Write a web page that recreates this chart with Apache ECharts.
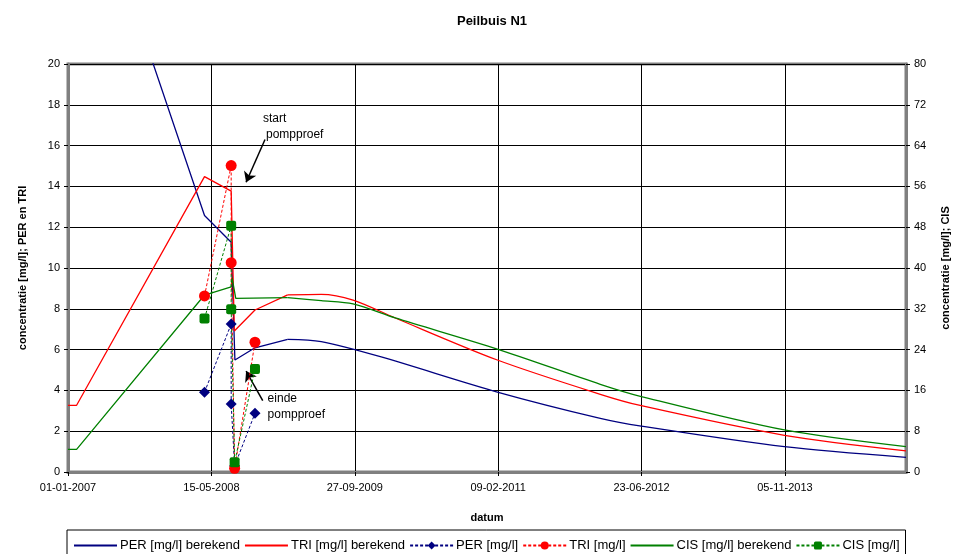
<!DOCTYPE html>
<html>
<head>
<meta charset="utf-8">
<script src="https://cdn.jsdelivr.net/npm/echarts@6/dist/echarts.min.js"></script>
<style>html,body{margin:0;padding:0;background:#fff}#c{width:954px;height:554px}</style>
</head>
<body>
<div id="c"></div>
<script>
// x values: days since 01-01-2007
const START_DATE = Date.UTC(2007, 0, 1);
const xTickInterval = 500;
const xMaxDays = 2922;

const perCalcDays = [0, 30, 476, 569, 582, 652, 766, 883, 1089, 1497, 1856, 1999, 2498, 2922];
const perCalcVals = [31.1, 31.1, 12.57, 11.26, 5.49, 6.09, 6.50, 6.39, 5.65, 3.92, 2.63, 2.25, 1.24, 0.72];

const triCalcDays = [0, 30, 476, 569, 580, 652, 766, 883, 994, 1141, 1497, 1856, 1999, 2498, 2922];
const triCalcVals = [3.27, 3.27, 14.48, 13.77, 6.91, 7.94, 8.68, 8.71, 8.43, 7.55, 5.49, 3.81, 3.25, 1.80, 1.04];

const cisCalcDays = [0, 30, 476, 569, 572, 585, 766, 883, 994, 1141, 1497, 1856, 1999, 2498, 2922];
const cisCalcVals = [4.45, 4.45, 34.7, 36.3, 38.1, 34.05, 34.2, 33.6, 32.96, 30.2, 24.1, 17.2, 14.8, 8.24, 4.96];

const measDays = [476, 569, 569, 581, 652];
const perMeas = [3.91, 7.25, 3.33, 0.3, 2.88];
const triMeas = [8.63, 15.02, 10.26, 0.18, 6.36];
const cisMeas = [30.1, 48.3, 31.9, 1.9, 20.2];

const leftTicks = {min: 0, max: 20, interval: 2};
const rightTicks = {min: 0, max: 80, interval: 8};

// annotations (data coords)
const annStartText = [687, 17.2];
const annStartArrow = [[687, 16.3], [621, 14.2]];
const annEndText = [703, 3.5];
const annEndArrow = [[679, 3.5], [621, 4.95]];

// the modelled curves are smooth from this day on (decay part)
const SMOOTH_FROM = 766;

const zip = (xs, ys) => xs.map((x, i) => [x, ys[i]]);
const head = (xs, ys) => zip(xs, ys).filter(p => p[0] <= SMOOTH_FROM);
const tail = (xs, ys) => zip(xs, ys).filter(p => p[0] >= SMOOTH_FROM);
const fmtDate = d => {
  const dt = new Date(START_DATE + d * 86400000);
  const p = n => (n < 10 ? '0' : '') + n;
  return p(dt.getUTCDate()) + '-' + p(dt.getUTCMonth() + 1) + '-' + dt.getUTCFullYear();
};

const FONT = 'Liberation Sans, Arial, sans-serif';
const NAVY = '#000080', RED = '#ff0000', GREEN = '#008000';
const noMarker = {opacity: 0};

function calcSeries(name, axis, xs, ys, color, extra) {
  const base = {name, type: 'line', yAxisIndex: axis, showSymbol: false,
    lineStyle: {color, width: 1.3}, itemStyle: {color}, z: 3, clip: true};
  return [
    Object.assign({}, base, {data: head(xs, ys)}, extra || {}),
    Object.assign({}, base, {data: tail(xs, ys), smooth: 0.3})
  ];
}

const chart = echarts.init(document.getElementById('c'), null, {renderer: 'canvas'});
const option = {
  animation: false,
  textStyle: {fontFamily: FONT},
  title: {
    text: 'Peilbuis N1', left: 487, top: 10, textAlign: 'center',
    textStyle: {fontFamily: FONT, fontSize: 13, fontWeight: 'bold', color: '#000'}
  },
  grid: {left: 68, right: 48, top: 64, bottom: 82, outerBoundsMode: 'none', containLabel: false,
    show: true, borderColor: '#808080', borderWidth: 3, backgroundColor: '#fff'},
  legend: {
    top: 530, left: 67,
    padding: [9, 6, 10, 6],
    borderColor: '#000', borderWidth: 1,
    itemWidth: 43, itemHeight: 10, itemGap: 4,
    textStyle: {fontFamily: FONT, fontSize: 13, color: '#000', padding: [0, 0, 0, -2]},
    data: [
      {name: 'PER [mg/l] berekend', itemStyle: noMarker},
      {name: 'TRI [mg/l] berekend', itemStyle: noMarker},
      'PER [mg/l]', 'TRI [mg/l]',
      {name: 'CIS [mg/l] berekend', itemStyle: noMarker},
      'CIS [mg/l]'
    ]
  },
  xAxis: {
    type: 'value', min: 0, max: xMaxDays, interval: xTickInterval,
    name: 'datum', nameLocation: 'middle', nameGap: 40,
    nameTextStyle: {fontFamily: FONT, fontSize: 11, fontWeight: 'bold', color: '#000'},
    axisLine: {show: true, lineStyle: {color: '#808080', width: 3}},
    axisTick: {show: true, length: 4, lineStyle: {color: '#000'}},
    axisLabel: {formatter: fmtDate, fontSize: 11, color: '#000', margin: 10, showMaxLabel: false, fontFamily: FONT},
    splitLine: {show: true, lineStyle: {color: '#000', width: 1}}
  },
  yAxis: [{
    type: 'value', ...leftTicks, position: 'left',
    name: 'concentratie [mg/l]; PER en TRI', nameLocation: 'middle', nameGap: 40,
    nameTextStyle: {fontFamily: FONT, fontSize: 11, fontWeight: 'bold', color: '#000'},
    axisLine: {show: true, lineStyle: {color: '#808080', width: 3}},
    axisTick: {show: true, length: 4, lineStyle: {color: '#000'}},
    axisLabel: {fontSize: 11, color: '#000', margin: 8, fontFamily: FONT},
    splitLine: {show: true, lineStyle: {color: '#000', width: 1}}
  }, {
    type: 'value', ...rightTicks, position: 'right',
    name: 'concentratie [mg/l]; CIS', nameLocation: 'middle', nameGap: 34,
    nameTextStyle: {fontFamily: FONT, fontSize: 11, fontWeight: 'bold', color: '#000'},
    axisLine: {show: true, lineStyle: {color: '#808080', width: 3}},
    axisTick: {show: true, length: 4, lineStyle: {color: '#000'}},
    axisLabel: {fontSize: 11, color: '#000', margin: 8, fontFamily: FONT},
    splitLine: {show: false}
  }],
  series: [
    ...calcSeries('PER [mg/l] berekend', 0, perCalcDays, perCalcVals, NAVY),
    ...calcSeries('TRI [mg/l] berekend', 0, triCalcDays, triCalcVals, RED, {
      markLine: {
        silent: true, symbol: ['none', 'arrow'], symbolSize: 10,
        lineStyle: {color: '#000', width: 1.5, type: 'solid'}, itemStyle: {color: '#000'}, label: {show: false},
        emphasis: {disabled: true},
        data: [
          [{coord: annStartArrow[0]}, {coord: annStartArrow[1]}],
          [{coord: annEndArrow[0]}, {coord: annEndArrow[1]}]
        ]
      }
    }),
    {name: 'PER [mg/l]', type: 'line', yAxisIndex: 0, data: zip(measDays, perMeas), symbol: 'diamond', symbolSize: 11,
      lineStyle: {color: NAVY, width: 1, type: [3, 2]}, itemStyle: {color: NAVY}, z: 5},
    {name: 'TRI [mg/l]', type: 'line', yAxisIndex: 0, data: zip(measDays, triMeas), symbol: 'circle', symbolSize: 11,
      lineStyle: {color: RED, width: 1, type: [3, 2]}, itemStyle: {color: RED}, z: 5},
    ...calcSeries('CIS [mg/l] berekend', 1, cisCalcDays, cisCalcVals, GREEN),
    {name: 'CIS [mg/l]', type: 'line', yAxisIndex: 1, data: zip(measDays, cisMeas), symbol: 'path://M2,0 L8,0 Q10,0 10,2 L10,8 Q10,10 8,10 L2,10 Q0,10 0,8 L0,2 Q0,0 2,0 Z', symbolSize: 10,
      lineStyle: {color: GREEN, width: 1, type: [3, 2]}, itemStyle: {color: GREEN}, z: 5}
  ]
};
chart.setOption(option);

const p1 = chart.convertToPixel({xAxisIndex: 0, yAxisIndex: 0}, annStartText);
const p2 = chart.convertToPixel({xAxisIndex: 0, yAxisIndex: 0}, annEndText);
chart.setOption({
  graphic: [
    {type: 'text', left: p1[0] - 2, top: p1[1] - 8, style: {text: 'start', fill: '#000', font: '12px ' + FONT}},
    {type: 'text', left: p1[0] + 1, top: p1[1] + 8, style: {text: 'pompproef', fill: '#000', font: '12px ' + FONT}},
    {type: 'text', left: p2[0] - 2, top: p2[1] - 8, style: {text: 'einde', fill: '#000', font: '12px ' + FONT}},
    {type: 'text', left: p2[0] - 2, top: p2[1] + 8, style: {text: 'pompproef', fill: '#000', font: '12px ' + FONT}}
  ]
});
</script>
</body>
</html>
